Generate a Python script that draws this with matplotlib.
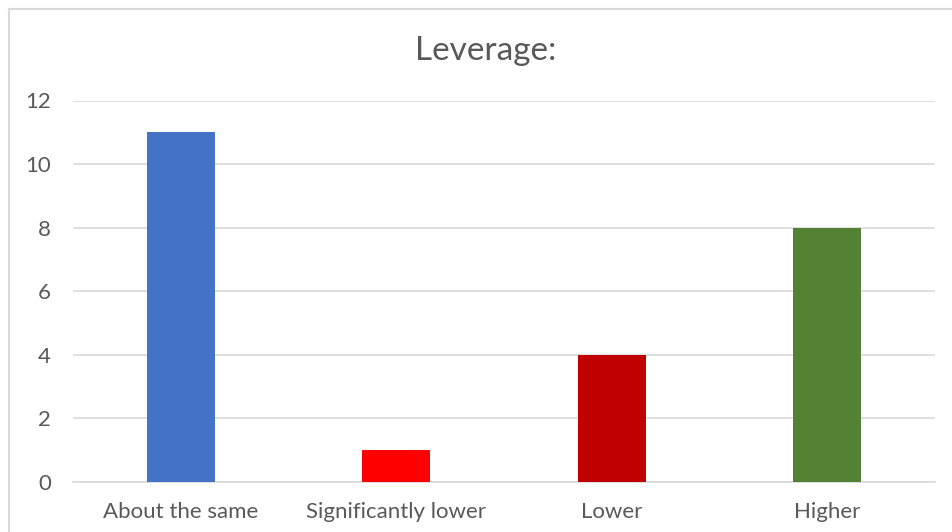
import matplotlib
matplotlib.use("Agg")
import matplotlib.pyplot as plt
from matplotlib.lines import Line2D

categories = ["About the same", "Significantly lower", "Lower", "Higher"]
values = [11, 1, 4, 8]
colors = ["#4472C4", "#FF0000", "#C00000", "#548235"]
yticks = [0, 2, 4, 6, 8, 10, 12]

plt.rcParams["font.family"] = ["Lato", "DejaVu Sans"]

fig = plt.figure(figsize=(9.52, 5.32), dpi=100)
W, H = 952, 532
ax = fig.add_axes([73 / W, 1 - 482 / H, (935 - 73) / W, (482 - 100.5) / H])

x = list(range(len(categories)))
ax.bar(x, values, width=0.315, color=colors, zorder=3)
ax.set_xlim(-0.5, len(categories) - 0.5)
ax.set_ylim(0, 12)
ax.set_yticks(yticks)
ax.set_xticks(x)
ax.set_xticklabels(categories)
ax.yaxis.grid(True, color="#d9d9d9", linewidth=1.2, zorder=0)
ax.tick_params(axis="both", length=0, labelsize=16, colors="#595959")
ax.tick_params(axis="y", pad=16)
ax.tick_params(axis="x", pad=14.5)
for s in ["top", "right", "left"]:
    ax.spines[s].set_visible(False)
ax.spines["bottom"].set_color("#d9d9d9")
ax.spines["bottom"].set_linewidth(1.2)

fig.text(486 / W, 1 - 51 / H, "Leverage:", ha="center", va="center",
         fontsize=24, color="#595959")

# chart area frame (left and top edges)
fig.add_artist(Line2D([8.5 / W, 8.5 / W], [0, 1 - 9 / H], transform=fig.transFigure,
                      color="#d9d9d9", linewidth=1.5))
fig.add_artist(Line2D([8.5 / W, 1], [1 - 9 / H, 1 - 9 / H], transform=fig.transFigure,
                      color="#d9d9d9", linewidth=1.5))

fig.savefig("out.png", dpi=100, facecolor="white")
